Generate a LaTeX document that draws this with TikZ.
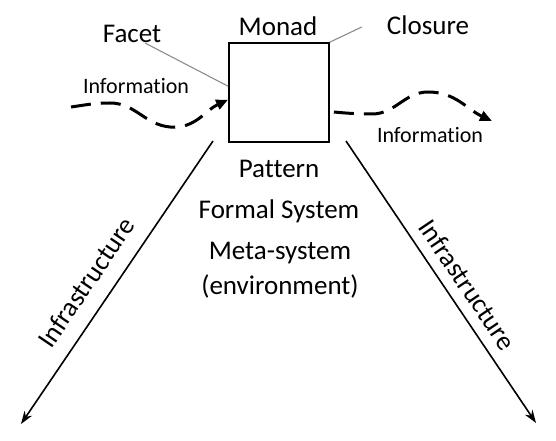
\documentclass[tikz,border=0pt]{standalone}
\usepackage{fontspec}
\setmainfont{Carlito}[Ligatures=NoCommon]
\usetikzlibrary{arrows.meta}

\begin{document}
\begin{tikzpicture}[x=1pt,y=1pt,
  bigfont/.style={font=\fontsize{27}{32}\selectfont},
  lbl/.style={bigfont,anchor=base,inner sep=0pt},
  infolbl/.style={font=\fontsize{22}{26}\selectfont,anchor=base,inner sep=0pt},
  leader/.style={draw=black!45,line width=1.1pt},
  wave/.style={line width=3pt,dash pattern=on 20pt off 10pt,-{Triangle[length=12pt,width=10pt]}},
  infra/.style={line width=1.6pt,-{Stealth[length=13pt,width=9pt]}}]
\useasboundingbox (0,0) rectangle (556,441);
% Box
\draw (279,348.5) node(monad)[draw=black,line width=1.7pt,minimum width=100pt,minimum height=99pt,inner sep=0pt] {};
% Labels round the box
\draw (278,405) node(monadlbl)[lbl] {Monad};
\draw (132,398) node(facet)[lbl] {Facet};
\draw (428,406) node(closure)[lbl] {Closure};
\draw[leader] ([xshift=13pt]facet.base) -- (monad.173);
\draw[leader] (monad.north east) -- ([shift={(-25pt,8pt)}]closure.base west);
% Information in
\draw (136,347) node(infoin)[infolbl] {Information};
\coordinate (wavestart) at (71,334);
\draw[wave] (wavestart) to[out=8,in=180] (110,338) to[out=0,in=175] (170,314) to[out=-5,in=205] (monad.188.5);
% Information out
\draw (430,298) node(infoout)[infolbl] {Information};
\coordinate (waveend) at (492,320);
\draw[wave] ([xshift=4pt]monad.339) to[out=-5,in=180] (372,327) to[out=0,in=180] (428,349) to[out=0,in=155] (waveend);
% Texts under the box
\draw (279,263) node(pattern)[lbl] {Pattern};
\draw (279,222) node(formal)[lbl] {Formal System};
\draw (280,181) node(meta)[lbl] {Meta-system};
\draw (280,146) node(env)[lbl] {(environment)};
% Infrastructure left
\coordinate (infral) at (213,300);
\coordinate (infralend) at (21,17);
\draw[infra] (infral) -- node(infratxtl)[bigfont,sloped,pos=0.55,above=12pt] {Infrastructure} (infralend);
% Infrastructure right
\coordinate (infrar) at (346,300);
\coordinate (infrarend) at (536,18);
\draw[infra] (infrar) -- node(infratxtr)[bigfont,sloped,pos=0.55,above=7pt] {Infrastructure} (infrarend);
\end{tikzpicture}
\end{document}
